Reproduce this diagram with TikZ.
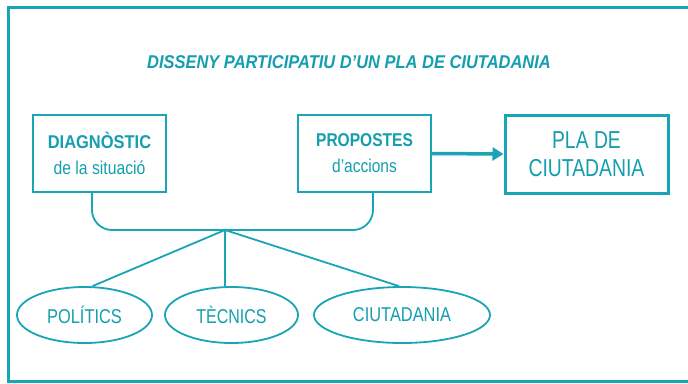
\documentclass[tikz,border=0pt]{standalone}
\usepackage{fontspec}
\usepackage{graphicx}
\setmainfont{Liberation Sans}
\usetikzlibrary{shapes.geometric,arrows.meta,calc}
\definecolor{teal1}{RGB}{25,165,182}
\definecolor{tealtxt}{RGB}{20,158,175}
\newcommand{\sx}[2]{\scalebox{#1}[1]{#2}}
\begin{document}
\begin{tikzpicture}[x=1pt,y=-1pt,
  line/.style={draw=teal1,line width=1.8pt},
  boxn/.style={line,rectangle,minimum width=133pt,minimum height=77pt,inner sep=0pt,align=center,text=tealtxt,font=\fontsize{18.5}{26}\selectfont},
  plabox/.style={draw=teal1,line width=3pt,rectangle,minimum width=163pt,minimum height=78pt,inner sep=0pt,align=center,text=tealtxt,font=\fontsize{24.5}{28}\selectfont},
  ell/.style={line,ellipse,minimum height=56pt,inner sep=0pt,text=tealtxt,font=\fontsize{20}{22}\selectfont},
  titlen/.style={text=tealtxt,font=\fontsize{18.5}{20}\selectfont\bfseries\itshape,inner sep=0pt}
]
\useasboundingbox (0,0) rectangle (688,383);
\fill[white] (0,0) rectangle (688,383);
% frame
\draw[draw=teal1,line width=3pt] (688,7) -- (8,7) -- (8,381) -- (688,381);
% title
\node[titlen,anchor=base] (title) at (349,68) {\sx{0.89}{DISSENY PARTICIPATIU D’UN PLA DE CIUTADANIA}};
% boxes
\node[boxn] (diag) at (99.5,153.5) {\sx{0.89}{\bfseries DIAGNÒSTIC}\\\sx{0.85}{de la situació}};
\node[boxn] (prop) at (364.5,153.5) {\sx{0.84}{\bfseries PROPOSTES}\\\sx{0.84}{d’accions}};
\node[plabox] (pla) at (586.5,154) {\sx{0.79}{PLA DE}\\\sx{0.79}{CIUTADANIA}};
\draw[draw=teal1,line width=3.5pt,-{Triangle[length=11pt,width=13pt]}] (prop.east) -- (pla.west);
% ellipses
\node[ell,minimum width=135pt] (pol) at (84.5,315) {\sx{0.82}{POLÍTICS}};
\node[ell,minimum width=133pt] (tec) at (231.5,315) {\sx{0.8}{TÈCNICS}};
\node[ell,minimum width=176pt] (ciu) at (402,315) {\sx{0.82}{CIUTADANIA}};
% bracket
\coordinate (hub) at (225,230);
\draw[line,rounded corners=20pt] ([xshift=-7.5pt]diag.south) |- (hub) -| ([xshift=8.5pt]prop.south);
\draw[line] (hub) -- ([xshift=8pt]pol.north);
\draw[line] (hub) -- (hub |- tec.north);
\draw[line] (hub) -- ([xshift=-3pt]ciu.north);
\end{tikzpicture}
\end{document}
